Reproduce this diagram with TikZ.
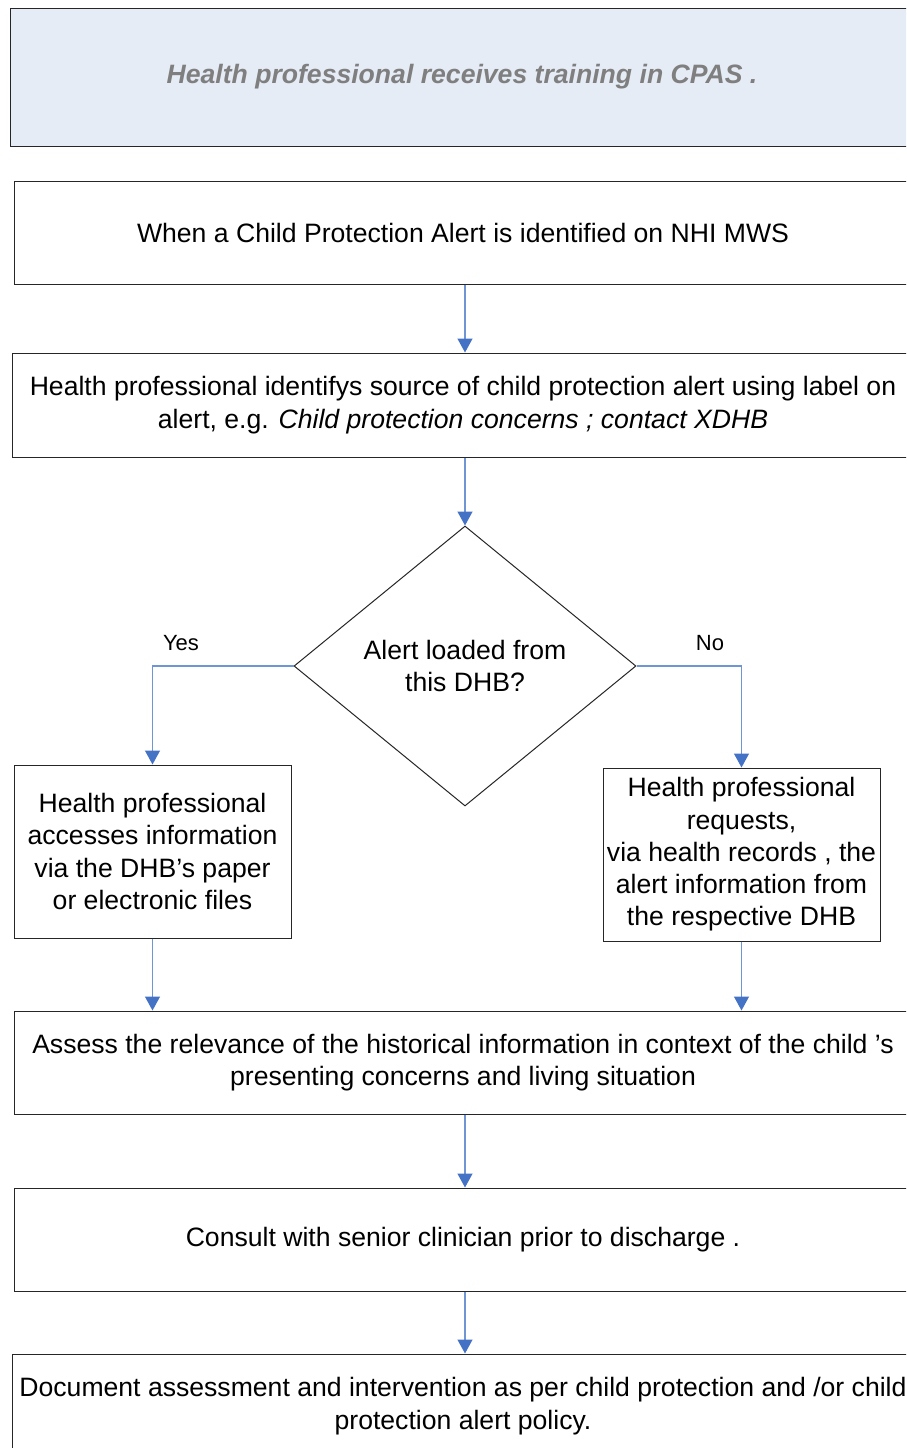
\documentclass[tikz,border=0pt]{standalone}
\usepackage{fontspec}
\setmainfont{Liberation Sans}
\usetikzlibrary{arrows.meta,shapes.geometric}
\definecolor{arrline}{HTML}{6F95D3}
\definecolor{arrhead}{HTML}{4472C4}
\definecolor{titlefill}{HTML}{E6ECF6}
\definecolor{titletext}{HTML}{7F7F7F}
\definecolor{boxline}{HTML}{262626}
\tikzset{
  box/.style={draw=boxline, line width=1pt, fill=white, align=center, inner sep=0pt,
    font=\fontsize{26.6}{32.3}\selectfont},
  arr/.style={draw=arrline, line width=1.3pt,
    -{Triangle[width=15pt,length=14pt,color=arrhead]}},
  lbl/.style={font=\fontsize{22}{24}\selectfont, inner sep=0pt}
}
\begin{document}
\begin{tikzpicture}[x=1pt,y=-1pt]
\useasboundingbox (0,0) rectangle (906,1448);
\clip (0,0) rectangle (906,1448);
% title
\node[box, fill=titlefill, minimum width=904pt, minimum height=138pt, text=titletext,
  font=\fontsize{26.6}{32}\selectfont\bfseries\itshape] (t) at (462,77)
  {Health professional receives training in CPAS .};
\node[box, minimum width=898pt, minimum height=103pt] (b1) at (463,232.5)
  {When a Child Protection Alert is identified on NHI MWS};
\node[box, minimum width=902pt, minimum height=104pt] (b2) at (463,405)
  {Health professional identifys source of child protection alert using label on\\
   alert, e.g. \textit{Child protection concerns ; contact XDHB}};
\node[box, diamond, minimum width=342pt, minimum height=280pt, aspect=1.22] (d) at (465,666)
  {Alert loaded from\\this DHB?};
\node[box, minimum width=277pt, minimum height=173pt] (l) at (152.5,851.5)
  {Health professional\\accesses information\\via the DHB’s paper\\or electronic files};
\node[box, minimum width=277pt, minimum height=173pt] (r) at (741.5,854.5)
  {Health professional\\requests,\\via health records , the\\alert information from\\the respective DHB};
\node[box, minimum width=898pt, minimum height=103pt] (b3) at (463,1062.5)
  {Assess the relevance of the historical information in context of the child ’s\\
   presenting concerns and living situation};
\node[box, minimum width=898pt, minimum height=103pt] (b4) at (463,1239.5)
  {Consult with senior clinician prior to discharge .};
\node[box, minimum width=902pt, minimum height=104pt] (b5) at (463,1406)
  {Document assessment and intervention as per child protection and /or child\\
   protection alert policy.};
% connectors
\draw[arr] (b1.south -| d.north) -- (d.north |- b2.north);
\draw[arr] (b2.south -| d.north) -- (d.north);
\draw[arr] (d.west) -| (l.north);
\draw[arr] (d.east) -| (r.north);
\draw[arr] (l.south) -- (l.south |- b3.north);
\draw[arr] (r.south) -- (r.south |- b3.north);
\draw[arr] (b3.south -| d.north) -- (d.north |- b4.north);
\draw[arr] (b4.south -| d.north) -- (d.north |- b5.north);
% labels
\node[lbl] (yes) at (181,643) {Yes};
\node[lbl] (no) at (710,643) {No};
\end{tikzpicture}
\end{document}
